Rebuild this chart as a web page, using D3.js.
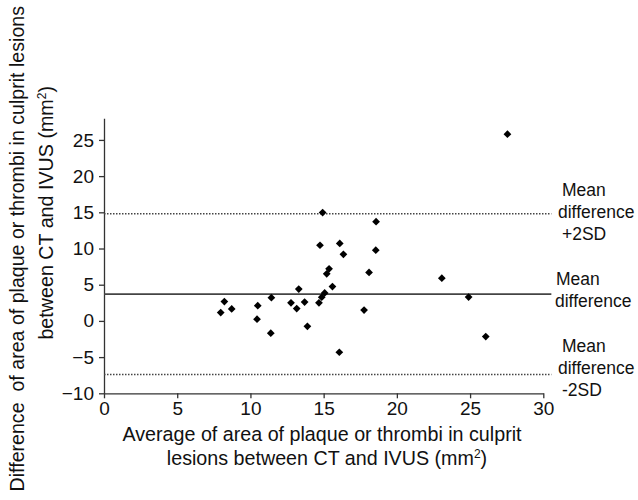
<!DOCTYPE html>
<html>
<head>
<meta charset="utf-8">
<script src="https://cdn.jsdelivr.net/npm/d3@7"></script>
<style>
  body { margin: 0; background: #fff; }
  svg text { font-family: "Liberation Sans", Arial, sans-serif; fill: #111; }
</style>
</head>
<body>
<svg id="chart" width="638" height="500"></svg>
<script>
// Bland-Altman data: average (mm2) vs difference (mm2)
const avgValues = [7.97, 8.22, 8.72, 10.5, 10.45, 11.43, 11.39, 12.77, 13.16, 13.3, 13.7, 13.89,
    14.68, 14.87, 15.07, 15.6, 16.07, 27.55, 14.93, 18.58, 14.75, 16.1, 16.35, 18.56,
    15.37, 15.21, 18.1, 17.76, 23.07, 24.9, 26.07];
const diffValues = [1.15, 2.67, 1.66, 2.1, 0.23, 3.2, -1.7, 2.5, 1.7, 4.4, 2.6, -0.74,
    2.5, 3.27, 3.87, 4.75, -4.33, 25.8, 14.96, 13.7, 10.45, 10.7, 9.2, 9.76,
    7.2, 6.5, 6.7, 1.5, 5.9, 3.3, -2.17];

const meanDiff = 3.7;
const upperLimit = 14.8;
const lowerLimit = -7.4;

const xTicks = [0, 5, 10, 15, 20, 25, 30];
const yTicks = [-10, -5, 0, 5, 10, 15, 20, 25];

const svg = d3.select("#chart");

// scales
const x = d3.scaleLinear().domain([0, 30]).range([104, 543.3]);
const y = d3.scaleLinear().domain([-10, 28]).range([393.3, 118.2]);

// axes
const xAxis = svg.append("g")
    .attr("transform", `translate(0,${y(-10)})`)
    .call(d3.axisBottom(x).tickValues(xTicks).tickSize(5).tickSizeOuter(0).tickPadding(3));
xAxis.selectAll("text").style("font-size", "19px").attr("fill", "#111");

const yAxis = svg.append("g")
    .attr("transform", `translate(${x(0)},0)`)
    .call(d3.axisLeft(y).tickValues(yTicks).tickSize(5).tickSizeOuter(0).tickPadding(5));
yAxis.selectAll("text").style("font-size", "19px").attr("fill", "#111");

svg.selectAll(".domain, .tick line").attr("stroke", "#333").attr("stroke-width", 1.3);

// reference lines
const refLines = [
    { v: upperLimit, dash: "1.5 1.5", w: 1.4 },
    { v: meanDiff, dash: null, w: 1.6 },
    { v: lowerLimit, dash: "1.5 1.5", w: 1.4 }
];
svg.selectAll(".ref")
    .data(refLines)
    .enter().append("line")
    .attr("class", "ref")
    .attr("x1", x(0))
    .attr("x2", x(30.55))
    .attr("y1", d => y(d.v))
    .attr("y2", d => y(d.v))
    .attr("stroke", "#444")
    .attr("stroke-width", d => d.w)
    .attr("stroke-dasharray", d => d.dash);

// points
const points = avgValues.map((a, i) => ({ a: a, d: diffValues[i] }));
svg.selectAll(".pt")
    .data(points)
    .enter().append("path")
    .attr("class", "pt")
    .attr("d", d3.symbol().type(d3.symbolSquare).size(30))
    .attr("transform", d => `translate(${x(d.a)},${y(d.d)}) rotate(45)`)
    .attr("fill", "#000");

// right-hand labels
const lineLabels = [
    { t: "Mean", x: 562, y: 196 },
    { t: "difference", x: 558, y: 218 },
    { t: "+2SD", x: 562, y: 240 },
    { t: "Mean", x: 556, y: 285 },
    { t: "difference", x: 555, y: 307 },
    { t: "Mean", x: 562, y: 352 },
    { t: "difference", x: 558, y: 374 },
    { t: "-2SD", x: 562, y: 396 }
];
svg.selectAll(".lbl")
    .data(lineLabels)
    .enter().append("text")
    .attr("class", "lbl")
    .attr("x", d => d.x)
    .attr("y", d => d.y)
    .style("font-size", "17.5px")
    .text(d => d.t);

// x axis title
const xt = svg.append("text")
    .attr("text-anchor", "middle")
    .style("font-size", "19.7px");
xt.append("tspan").attr("x", 322).attr("y", 441)
    .text("Average of area of plaque or thrombi in culprit");
const xt2 = xt.append("tspan").attr("x", 327).attr("y", 465).text("lesions between CT and IVUS (mm");
xt2.append("tspan").attr("dy", -7).style("font-size", "12px").text("2");
xt.append("tspan").attr("dy", 7).text(")");

// y axis title (rotated)
svg.append("text")
    .attr("transform", "translate(24,6) rotate(-90)")
    .attr("text-anchor", "end")
    .style("font-size", "19.6px")
    .style("white-space", "pre")
    .text("Difference  of area of plaque or thrombi in culprit lesions");

const yt2 = svg.append("text")
    .attr("transform", "translate(53,86) rotate(-90)")
    .attr("text-anchor", "end")
    .style("font-size", "19.7px");
yt2.append("tspan").text("between CT and IVUS (mm");
yt2.append("tspan").attr("dy", -7).style("font-size", "12px").text("2");
yt2.append("tspan").attr("dy", 7).text(")");
</script>
</body>
</html>
